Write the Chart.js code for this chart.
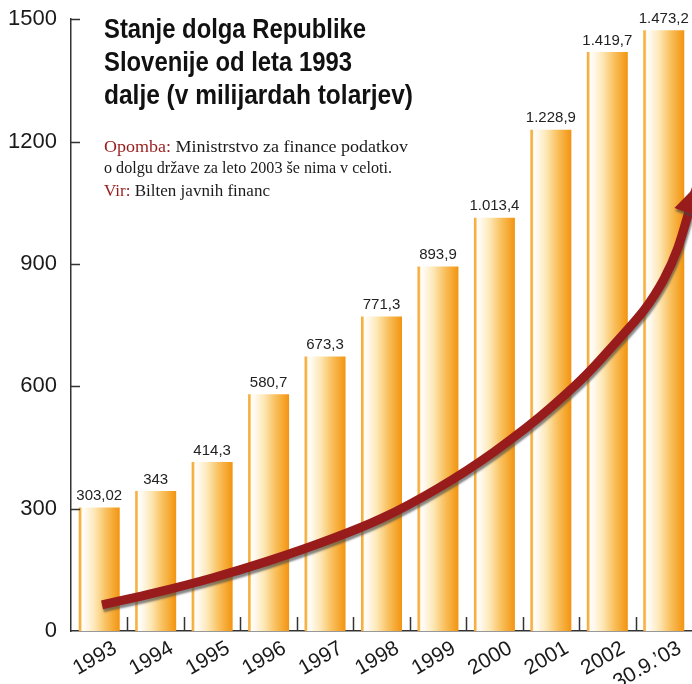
<!DOCTYPE html>
<html>
<head>
<meta charset="utf-8">
<script src="https://cdn.jsdelivr.net/npm/chart.js@4"></script>
<style>
  html, body { margin: 0; background: #fff; }
  #wrap { width: 692px; height: 684px; }
</style>
</head>
<body>
<div id="wrap"><canvas id="c"></canvas></div>
<script>
// categories
const years = ["1993", "1994", "1995", "1996", "1997", "1998", "1999", "2000", "2001", "2002", "30.9.’03"];

// debt, billions of tolars
const debt = [303.02, 343, 414.3, 580.7, 673.3, 771.3, 893.9, 1013.4, 1228.9, 1419.7, 1473.2];

// value labels as printed above the bars
const debtLabels = ["303,02", "343", "414,3", "580,7", "673,3", "771,3", "893,9", "1.013,4", "1.228,9", "1.419,7", "1.473,2"];

// decorative trend arrow (category index, value)
const trendX = [0.05, 1, 2, 3, 4, 5, 6, 7, 8, 9, 10, 10.6];
const trendY = [64, 94, 130, 172, 220, 276, 350, 440, 548, 684, 862, 1095];

// y axis ticks
const yTicks = [0, 300, 600, 900, 1200, 1500];

// texts
const titleLines = ["Stanje dolga Republike", "Slovenije od leta 1993", "dalje (v milijardah tolarjev)"];
const noteLabel = "Opomba:";
const noteLines = [" Ministrstvo za finance podatkov", "o dolgu države za leto 2003 še nima v celoti."];
const sourceLabel = "Vir:";
const sourceText = " Bilten javnih financ";

const BAR_PCT = 0.726;
const AXIS = "#333";
const RED = "#981c1c";

// gradient across each bar: thin orange edge, white, then deeper orange
function barGradient(c){
  const chart = c.chart, x = chart.scales.x;
  if(!x || c.dataIndex === undefined) return "#f7b23b";
  const mid = x.getPixelForValue(c.dataIndex);
  const w = Math.abs(x.getPixelForValue(1) - x.getPixelForValue(0)) * BAR_PCT;
  if(!isFinite(mid) || !isFinite(w) || w <= 0) return "#f7b23b";
  const g = chart.ctx.createLinearGradient(mid - w/2, 0, mid + w/2, 0);
  g.addColorStop(0, "#f5a935");
  g.addColorStop(0.05, "#f7b54c");
  g.addColorStop(0.08, "#fffdf6");
  g.addColorStop(0.16, "#fffaf0");
  g.addColorStop(0.4, "#fde6b2");
  g.addColorStop(0.65, "#f9c262");
  g.addColorStop(0.88, "#f5a42a");
  g.addColorStop(1, "#f29312");
  return g;
}

// draw text runs squeezed/stretched to a given width
function drawRuns(ctx, runs, x, y, width, font){
  ctx.font = font;
  const total = runs.reduce((s, r) => s + ctx.measureText(r.t).width, 0);
  ctx.save();
  ctx.translate(x, y);
  ctx.scale(width / total, 1);
  let cx = 0;
  runs.forEach(r => {
    ctx.fillStyle = r.c;
    ctx.fillText(r.t, cx, 0);
    cx += ctx.measureText(r.t).width;
  });
  ctx.restore();
}

// labels above bars
const valueLabels = {
  id: "valueLabels",
  afterDatasetsDraw(chart){
    const ctx = chart.ctx;
    const meta = chart.getDatasetMeta(0);
    ctx.save();
    ctx.font = '15px "Liberation Sans", Arial, sans-serif';
    ctx.fillStyle = "#222";
    ctx.textAlign = "center";
    ctx.textBaseline = "bottom";
    meta.data.forEach((bar, i) => ctx.fillText(debtLabels[i], bar.x, bar.y - 4));
    ctx.restore();
  }
};

// shadow under the trend line + arrowhead
const trendArrow = {
  id: "trendArrow",
  beforeDatasetDraw(chart, args){
    if(args.index !== 1) return;
    const ctx = chart.ctx;
    ctx.save();
    ctx.shadowColor = "rgba(70,70,70,0.65)";
    ctx.shadowOffsetX = 1;
    ctx.shadowOffsetY = 3;
    ctx.shadowBlur = 2;
  },
  afterDatasetDraw(chart, args){
    if(args.index !== 1) return;
    const ctx = chart.ctx;
    const pts = args.meta.data;
    const a = pts[pts.length - 2], b = pts[pts.length - 1];
    const ang = Math.atan2(b.y - a.y, b.x - a.x);
    const len = 30, half = 14;
    const bx = b.x - Math.cos(ang) * len, by = b.y - Math.sin(ang) * len;
    ctx.fillStyle = RED;
    ctx.beginPath();
    ctx.moveTo(b.x, b.y);
    ctx.lineTo(bx + Math.sin(ang) * half, by - Math.cos(ang) * half);
    ctx.lineTo(bx - Math.sin(ang) * half, by + Math.cos(ang) * half);
    ctx.closePath();
    ctx.fill();
    ctx.restore();
  }
};

// inward tick marks and texts
const decorations = {
  id: "decorations",
  afterDraw(chart){
    const { ctx, scales: { x, y } } = chart;
    ctx.save();
    ctx.strokeStyle = AXIS;
    ctx.lineWidth = 1.5;
    ctx.beginPath();
    yTicks.forEach(v => {
      if(!v) return;
      const py = Math.round(y.getPixelForValue(v)) + 0.5;
      ctx.moveTo(x.left, py);
      ctx.lineTo(x.left + 9, py);
    });
    for(let i = 1; i < years.length; i++){
      const px = Math.round(x.getPixelForValue(i - 0.5)) + 0.5;
      ctx.moveTo(px, y.bottom);
      ctx.lineTo(px, y.bottom - 14);
    }
    ctx.stroke();

    // title
    ctx.textBaseline = "alphabetic";
    const tf = 'bold 28px "Liberation Sans", Arial, sans-serif';
    const tw = [262, 248, 309];
    titleLines.forEach((t, i) => drawRuns(ctx, [{ t, c: "#111" }], 104, 38 + i * 33, tw[i], tf));

    // note and source
    const nf = '17px "Liberation Serif", "DejaVu Serif", serif';
    drawRuns(ctx, [{ t: noteLabel, c: RED }, { t: noteLines[0], c: "#1a1a1a" }], 104, 152, 304, nf);
    drawRuns(ctx, [{ t: noteLines[1], c: "#1a1a1a" }], 104, 173, 288, nf);
    drawRuns(ctx, [{ t: sourceLabel, c: RED }, { t: sourceText, c: "#1a1a1a" }], 104, 196, 166, nf);
    ctx.restore();
  }
};

new Chart(document.getElementById("c"), {
  type: "bar",
  data: {
    datasets: [
      {
        label: "Dolg",
        data: debt.map((v, i) => ({ x: i, y: v })),
        backgroundColor: barGradient,
        borderWidth: 0,
        barPercentage: BAR_PCT,
        categoryPercentage: 1,
        order: 1
      },
      {
        type: "line",
        label: "Trend",
        data: trendX.map((v, i) => ({ x: v, y: trendY[i] })),
        borderColor: RED,
        borderWidth: 9,
        borderCapStyle: "butt",
        pointRadius: 0,
        tension: 0.4,
        fill: false,
        clip: false,
        order: 0
      }
    ]
  },
  options: {
    responsive: true,
    maintainAspectRatio: false,
    animation: false,
    devicePixelRatio: 1,
    layout: { padding: { top: 19, right: 0, left: 0, bottom: 0 } },
    plugins: {
      legend: { display: false },
      tooltip: { enabled: false },
      title: { display: false }
    },
    scales: {
      x: {
        type: "linear",
        min: -0.5,
        max: 10.5,
        offset: false,
        grid: { display: false, offset: false },
        border: { display: true, color: AXIS, width: 1.5 },
        afterBuildTicks(s){ s.ticks = years.map((_, i) => ({ value: i })); },
        ticks: {
          color: "#1a1a1a",
          font: { family: '"Liberation Sans", Arial, sans-serif', size: 21 },
          minRotation: 30,
          maxRotation: 30,
          padding: -3,
          labelOffset: 16,
          autoSkip: false,
          callback: (v, i) => years[i]
        },
        afterFit(s){ s.height = 53; }
      },
      y: {
        min: 0,
        max: 1500,
        grid: { display: false },
        border: { display: true, color: AXIS, width: 1.5 },
        ticks: {
          stepSize: 300,
          color: "#1a1a1a",
          padding: 6,
          font: { family: '"Liberation Sans", Arial, sans-serif', size: 22 },
          callback: v => String(v)
        },
        afterFit(s){ s.width = 71; }
      }
    }
  },
  plugins: [valueLabels, trendArrow, decorations]
});
</script>
</body>
</html>
